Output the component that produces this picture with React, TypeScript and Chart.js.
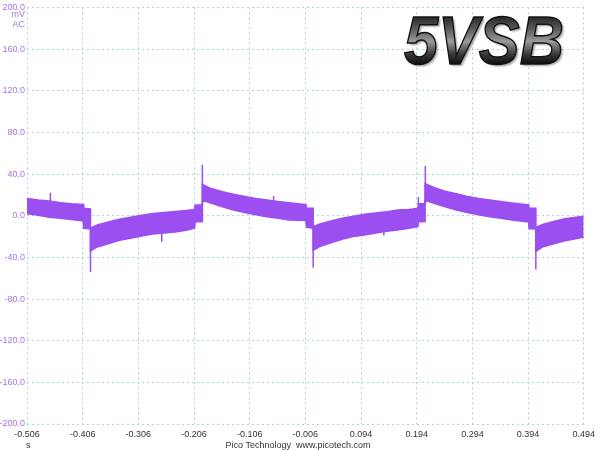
import { useEffect, useRef } from "react";
import { Chart, registerables } from "chart.js";
import type { Plugin } from "chart.js";

Chart.register(...registerables);

// time axis (s) and tick positions
const xTicks = [-0.506, -0.406, -0.306, -0.206, -0.106, -0.006, 0.094, 0.194, 0.294, 0.394, 0.494];

// band envelope (mV AC)
const times = [
    -0.506, -0.486, -0.466, -0.446, -0.426, -0.405, -0.404, -0.392,
    -0.392, -0.38, -0.36, -0.34, -0.32, -0.3, -0.28, -0.26, -0.24, -0.22, -0.205, -0.204, -0.191,
    -0.191, -0.175, -0.155, -0.135, -0.115, -0.095, -0.075, -0.055, -0.035, -0.005, -0.004, 0.008,
    0.008, 0.02, 0.04, 0.06, 0.08, 0.1, 0.12, 0.14, 0.16, 0.18, 0.196, 0.197, 0.209,
    0.209, 0.225, 0.245, 0.265, 0.285, 0.305, 0.325, 0.345, 0.365, 0.395, 0.396, 0.408,
    0.408, 0.42, 0.44, 0.46, 0.48, 0.494,
];
const upper = [
    16.5, 15, 14, 12.5, 11.5, 10.8, 7, 6.5,
    -12, -9, -6, -3.5, -1.5, 0.5, 2, 3, 4, 5, 6, 10, 10.5,
    30, 26, 23, 20.5, 18.5, 16.5, 15, 13.5, 12.4, 10.5, 7, 7,
    -10.5, -8, -5, -2.5, -0.5, 1.3, 2.5, 3.8, 5.4, 6, 7, 11.5, 11.5,
    30.8, 27, 23.5, 21, 18.5, 16.5, 15, 13.5, 12.2, 10.2, 7, 7,
    -11.4, -8.5, -5.5, -3, -1.5, -0.5,
];
const lower = [
    2, 0.5, -1.5, -2.5, -3.5, -5, -12, -12.5,
    -34, -30, -27, -23.5, -21.5, -19.5, -17.5, -16.5, -15.5, -14, -12, -6, -5.5,
    15, 12, 8.5, 5.5, 3, 1, -1, -2.5, -4, -4.5, -11, -12,
    -33, -29.5, -26, -22.5, -20, -18.4, -16.5, -15, -13.6, -12, -10.5, -5.7, -5.5,
    15, 12, 8.5, 5.5, 3, 1, -1, -2.5, -4, -6, -12.5, -12.7,
    -34.3, -30, -27, -24, -22, -20.5,
];

// isolated glitches: time, from, to
const spikeTimes = [-0.464, -0.392, -0.264, -0.191, -0.063, 0.008, 0.135, 0.197, 0.2095, 0.408];
const spikeFrom = [8, -12, -15, 10, 12, -10, -15, 11, 11, -12];
const spikeTo = [22, -54, -25, 49, 19, -50, -19, 18, 47.6, -51.7];

const TRACE = "#9b4ff0";
const LABEL_FONT = "'Liberation Sans', Arial, sans-serif";

const overlay: Plugin<"line"> = {
    id: "overlay",
    afterDraw(chart) {
        const ctx = chart.ctx;
        ctx.save();
        ctx.font = `9px ${LABEL_FONT}`;
        ctx.fillStyle = "#a874ea";
        ctx.textAlign = "right";
        ctx.textBaseline = "middle";
        ctx.fillText("mV", 25, 15);
        ctx.fillText("AC", 25, 25);

        ctx.fillStyle = "#333";
        ctx.textAlign = "left";
        ctx.fillText("s", 26, 446);
        ctx.textAlign = "center";
        ctx.fillText("Pico Technology  www.picotech.com", 298, 446);

        // big title
        ctx.translate(404, 64);
        ctx.scale(0.9, 1);
        ctx.font = "italic bold 68px 'Liberation Sans', Arial, sans-serif";
        ctx.textAlign = "left";
        ctx.textBaseline = "alphabetic";
        const g = ctx.createLinearGradient(0, -50, 0, 0);
        g.addColorStop(0, "#1c1c1c");
        g.addColorStop(0.3, "#5a5a5a");
        g.addColorStop(0.55, "#9a9a9a");
        g.addColorStop(0.8, "#3a3a3a");
        g.addColorStop(1, "#0e0e0e");
        ctx.shadowColor = "rgba(0,0,0,0.35)";
        ctx.shadowOffsetX = 2;
        ctx.shadowOffsetY = 2;
        ctx.shadowBlur = 2;
        ctx.fillStyle = g;
        ctx.fillText("5VSB", 0, 0);
        ctx.shadowColor = "transparent";
        ctx.lineWidth = 1.5;
        ctx.strokeStyle = "#111";
        ctx.strokeText("5VSB", 0, 0);
        ctx.restore();
    },
};

export default function App() {
    const canvasRef = useRef<HTMLCanvasElement | null>(null);
    const chartRef = useRef<Chart | null>(null);

    useEffect(() => {
        if (!canvasRef.current) return;

        const spikeData: { x: number; y: number | null }[] = [];
        spikeTimes.forEach((t, i) => {
            spikeData.push({ x: t, y: spikeFrom[i] }, { x: t, y: spikeTo[i] }, { x: t, y: null });
        });

        chartRef.current = new Chart(canvasRef.current, {
            type: "line",
            data: {
                datasets: [
                    {
                        label: "upper",
                        data: times.map((t, i) => ({ x: t, y: upper[i] })),
                        borderColor: TRACE,
                        backgroundColor: TRACE,
                        borderWidth: 1.6,
                        pointRadius: 0,
                        fill: "+1",
                    },
                    {
                        label: "lower",
                        data: times.map((t, i) => ({ x: t, y: lower[i] })),
                        borderColor: TRACE,
                        borderWidth: 1.6,
                        pointRadius: 0,
                        fill: false,
                    },
                    {
                        label: "spikes",
                        data: spikeData,
                        borderColor: TRACE,
                        borderWidth: 1.5,
                        pointRadius: 0,
                        spanGaps: false,
                        fill: false,
                    },
                ],
            },
            options: {
                responsive: true,
                maintainAspectRatio: false,
                animation: false,
                layout: { padding: { top: 4, right: 13, left: 0, bottom: 0 } },
                plugins: { legend: { display: false }, tooltip: { enabled: false } },
                scales: {
                    x: {
                        type: "linear",
                        min: -0.506,
                        max: 0.494,
                        afterBuildTicks: (scale) => {
                            scale.ticks = xTicks.map((v) => ({ value: v }));
                        },
                        afterFit: (scale) => {
                            scale.height = 26;
                        },
                        border: { display: false, dash: [2, 3] },
                        grid: { color: "#a9d6e0", drawTicks: false },
                        ticks: {
                            autoSkip: false,
                            maxRotation: 0,
                            padding: 5,
                            color: "#333",
                            font: { family: LABEL_FONT, size: 9 },
                            callback: (v) => Number(v).toFixed(3),
                        },
                    },
                    y: {
                        min: -200,
                        max: 200,
                        afterFit: (scale) => {
                            scale.width = 27;
                        },
                        border: { display: false, dash: [2, 3] },
                        grid: { color: "#a9d6e0", drawTicks: false },
                        ticks: {
                            stepSize: 40,
                            padding: 2,
                            color: "#a874ea",
                            font: { family: LABEL_FONT, size: 9 },
                            callback: (v) => Number(v).toFixed(1),
                        },
                    },
                },
            },
            plugins: [overlay],
        });

        return () => {
            chartRef.current?.destroy();
            chartRef.current = null;
        };
    }, []);

    return (
        <div style={{ position: "absolute", left: 0, top: 0, width: 600, height: 450, background: "#fff" }}>
            <canvas ref={canvasRef} />
        </div>
    );
}
